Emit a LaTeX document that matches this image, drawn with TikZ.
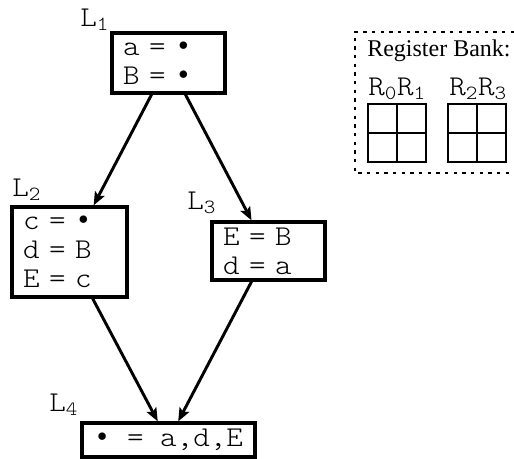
\documentclass[tikz,border=0pt]{standalone}
\usepackage{fontspec}
\setmainfont{Liberation Serif}
\newfontfamily\cmono{lmmonolt10-regular.otf}[FakeStretch=1.1]
\usetikzlibrary{calc,arrows.meta}
\newcommand\bul{\makebox[0.5775em]{\raisebox{0.17em}{\scalebox{0.7}{$\bullet$}}}}
\newcommand\monofont{\cmono\fontsize{21.5}{21.75}\selectfont\spaceskip=0.5775em\relax}
\tikzset{
  blk/.style={draw, line width=2.4pt, inner xsep=8.25pt, inner ysep=0pt,
    font=\monofont},
  blkl/.style={blk, text width=68.25pt, align=left},
  lbl/.style={anchor=base west, inner sep=0pt, font=\monofont},
  flow/.style={line width=2.2pt, -{Stealth[length=10pt,width=8pt,inset=2pt]}},
  bankframe/.style={line width=0.8pt, dash pattern=on 2.5pt off 4pt},
  reg/.style={line width=1.4pt},
}
\begin{document}
\begin{tikzpicture}[x=0.75pt,y=-0.75pt]
\useasboundingbox (0,0) rectangle (514,458);

% blocks
\node[blkl, minimum height=45pt] (l1) at (168.5,63) {a = \bul\\B = \bul};
\node[blkl, text width=69.75pt, minimum height=67.5pt] (l2) at (69.5,252) {c = \bul\\d = B\\E = c};
\node[blkl, minimum height=43.5pt] (l3) at (268.5,251) {E = B\\d = a};
\node[blk, align=center, minimum width=129.75pt, minimum height=25.5pt] (l4) at (168.5,440) {\bul{} = a,d,E};

% labels
\node[lbl] (n1) at (80,26) {L\textsubscript{1}};
\node[lbl] (n2) at (12,196) {L\textsubscript{2}};
\node[lbl] (n3) at (187,209) {L\textsubscript{3}};
\node[lbl] (n4) at (49,411) {L\textsubscript{4}};

% arrows
\draw[flow] ($(l1.south west)!0.354!(l1.south east)$) -- ($(l2.north west)!0.704!(l2.north east)$);
\draw[flow] ($(l1.south west)!0.646!(l1.south east)$) -- ($(l3.north west)!0.354!(l3.north east)$);
\draw[flow] ($(l2.south west)!0.696!(l2.south east)$) -- ($(l4.north west)!0.439!(l4.north east)$);
\draw[flow] ($(l3.south west)!0.354!(l3.south east)$) -- ($(l4.north west)!0.555!(l4.north east)$);

% register bank
\draw[bankframe] (514,32) -- (355,32) -- (355,173) -- (514,173);
\node[anchor=base west, inner sep=0pt, font=\fontsize{18}{20}\selectfont] (rb) at (367,56) {Register Bank:};
\node[lbl] (r01) at (368,95) {R\textsubscript{0}R\textsubscript{1}};
\node[lbl] (r23) at (449,95) {R\textsubscript{2}R\textsubscript{3}};
\draw[reg] (368,104) rectangle (426,162);
\draw[reg] (397,104) -- (397,162);
\draw[reg] (368,133) -- (426,133);
\draw[reg] (448,104) rectangle (506,162);
\draw[reg] (477,104) -- (477,162);
\draw[reg] (448,133) -- (506,133);
\end{tikzpicture}
\end{document}
